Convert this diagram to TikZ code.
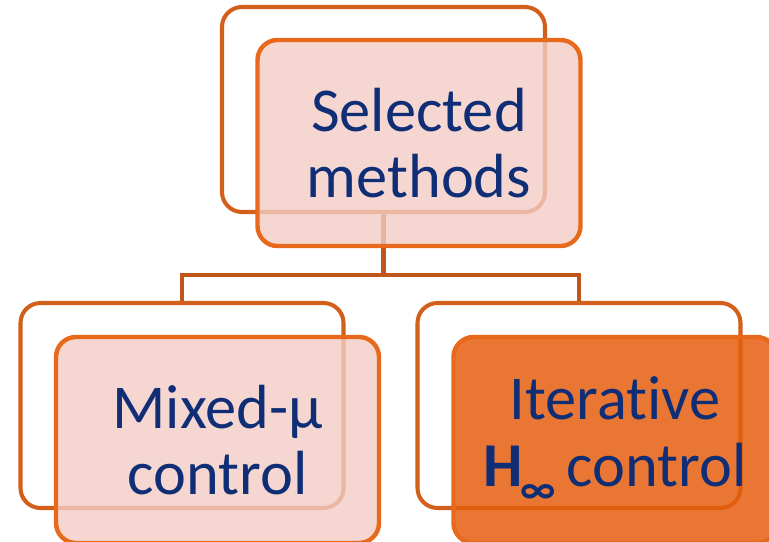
\documentclass[tikz,border=0pt]{standalone}
\usepackage{fontspec}
\setmainfont{Carlito}[Ligatures=NoCommon]
\usepackage{tikz}

\definecolor{backline}{RGB}{210,96,26}
\definecolor{frontline}{RGB}{232,105,28}
\definecolor{linkline}{RGB}{192,86,26}
\definecolor{pinkfill}{RGB}{242,204,196}
\definecolor{hotfill}{RGB}{229,94,14}
\definecolor{textblue}{RGB}{16,46,118}

\tikzset{
    backbox/.style={draw=backline, line width=2.3pt, rounded corners=0.4cm,
        minimum width=6.46cm, minimum height=4.1cm},
    frontbox/.style={draw=frontline, line width=2.5pt, rounded corners=0.4cm,
        minimum width=6.46cm, minimum height=4.12cm, fill=pinkfill, fill opacity=0.8,
        text opacity=1, text=textblue, align=center,
        font=\fontsize{35.5}{38}\selectfont},
    link/.style={draw=linkline, line width=2.3pt}
}

\begin{document}
\begin{tikzpicture}
        \useasboundingbox (0, 0) rectangle (15.38, -10.82);

        % outlines behind
        \node[backbox] (selB) at (7.67, -2.19) {};
        \node[backbox] (mixB) at (3.64, -8.11) {};
        \node[backbox] (itB) at (11.58, -8.11) {};

        \draw[link] (selB.south) -- ++(0, -1.22) coordinate (split);
        \draw[link] (split) -| (mixB.north);
        \draw[link] (split) -| (itB.north);

        % filled boxes on top
        \node[frontbox] (sel) at (8.38, -2.86) {Selected\\methods};
        \node[frontbox] (mix) at (4.35, -8.8) {Mixed-μ\\control};
        \node[frontbox, fill=hotfill, fill opacity=0.85] (it) at (12.3, -8.8)
            {Iterat\kern0pt ive\\{\bfseries H}\kern-1pt\raisebox{-0.55ex}{\fontsize{24}{24}\selectfont\bfseries ∞}\kern-2pt\ control};
    \end{tikzpicture}
\end{document}
